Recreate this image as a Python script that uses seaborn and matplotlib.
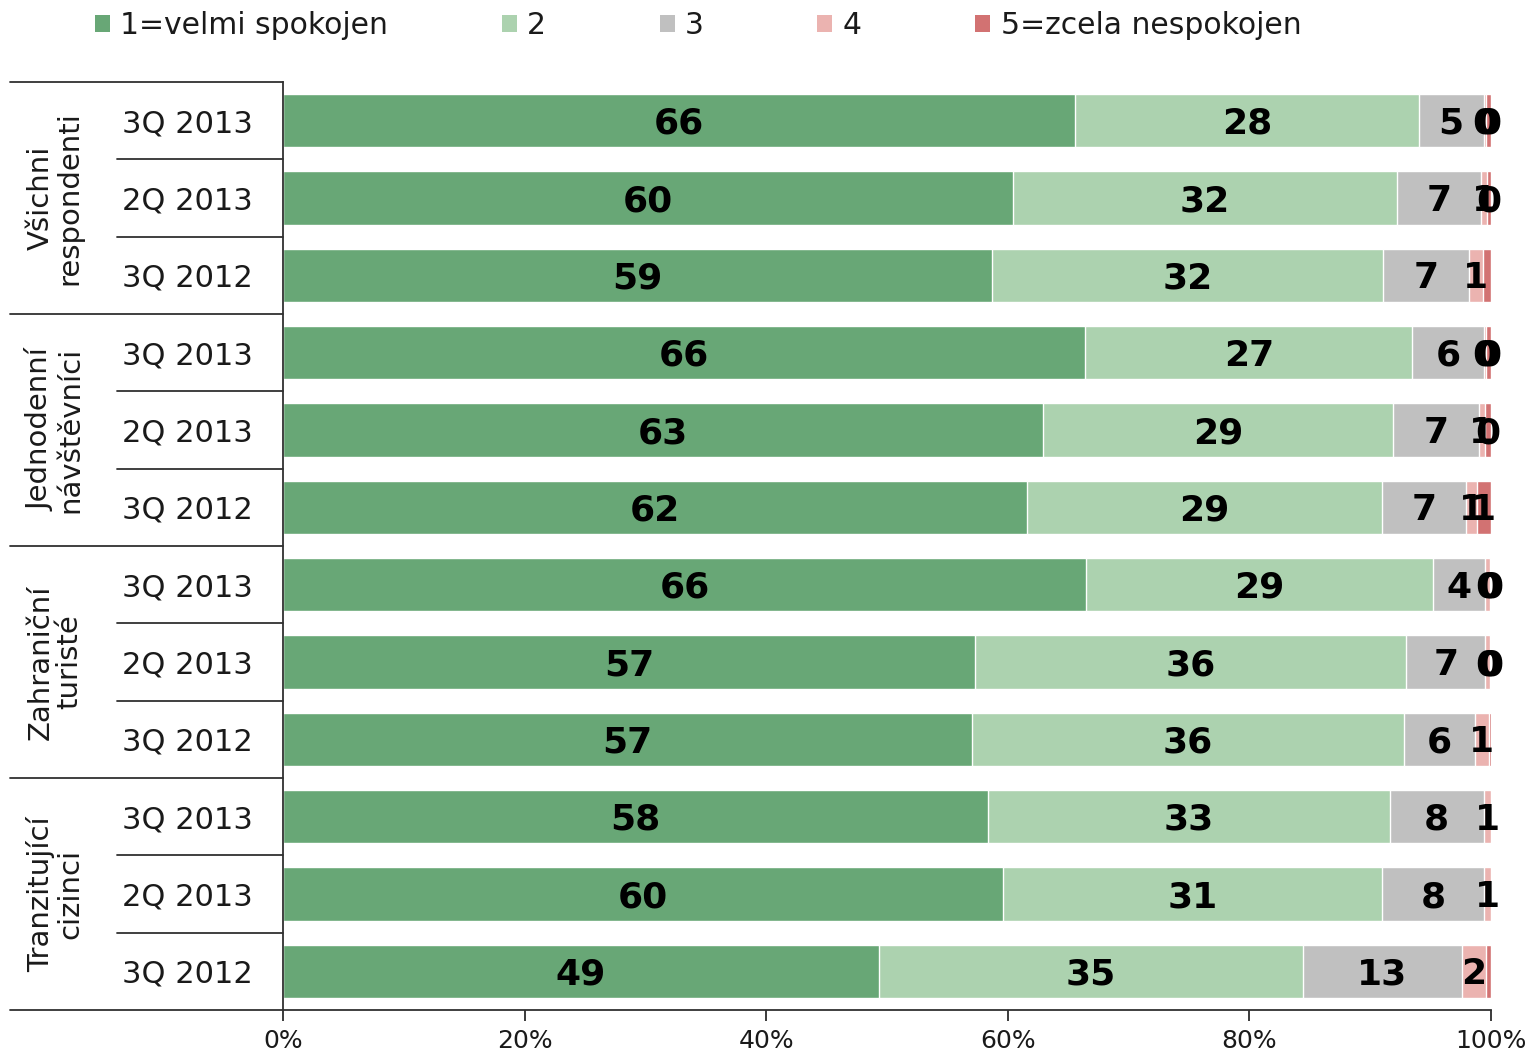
import matplotlib
matplotlib.use('Agg')
import matplotlib.pyplot as plt
import seaborn as sns
from matplotlib.patches import Patch
from matplotlib.lines import Line2D
from matplotlib.transforms import blended_transform_factory

# Data (share of answers, %)
groups = ['Všichni\nrespondenti', 'Jednodenní\nnávštěvníci',
          'Zahraniční\nturisté', 'Tranzitující\ncizinci']
periods = ['3Q 2013', '2Q 2013', '3Q 2012']
legend_labels = ['1=velmi spokojen', '2', '3', '4', '5=zcela nespokojen']

s1 = [65.6, 60.4, 58.7, 66.4, 62.9, 61.6, 66.5, 57.3, 57.0, 58.4, 59.6, 49.3]
s2 = [28.4, 31.8, 32.4, 27.1, 29.0, 29.4, 28.7, 35.7, 35.8, 33.2, 31.4, 35.1]
s3 = [5.4, 7.0, 7.1, 5.9, 7.1, 6.9, 4.3, 6.5, 5.9, 7.8, 8.4, 13.2]
s4 = [0.2, 0.5, 1.1, 0.2, 0.5, 0.9, 0.4, 0.4, 1.1, 0.6, 0.6, 2.0]
s5 = [0.4, 0.3, 0.7, 0.4, 0.5, 1.2, 0.1, 0.1, 0.2, 0.0, 0.0, 0.4]

# data labels as printed in the chart
lab1 = ['66', '60', '59', '66', '63', '62', '66', '57', '57', '58', '60', '49']
lab2 = ['28', '32', '32', '27', '29', '29', '29', '36', '36', '33', '31', '35']
lab3 = ['5', '7', '7', '6', '7', '7', '4', '7', '6', '8', '8', '13']
lab4 = ['0', '1', '1', '0', '1', '1', '0', '0', '1', '1', '1', '2']
lab5 = ['0', '0', '', '0', '0', '1', '0', '0', '', '', '', '']

COLORS = ['#68a776', '#acd2af', '#c0c0c0', '#ebb3b0', '#d27272']
TEXT = '#1a1a1a'

sns.set_theme(style='white')
plt.rcParams['font.family'] = ['DejaVu Sans']
plt.rcParams['text.color'] = TEXT

series = [s1, s2, s3, s4, s5]
labels = [lab1, lab2, lab3, lab4, lab5]
rows = [f'{g}|{p}' for g in groups for p in periods]

# cumulative ends of each segment
cums = []
run = [0.0] * len(rows)
for s in series:
    run = [a + b for a, b in zip(run, s)]
    cums.append(run)

fig = plt.figure(figsize=(15.35, 10.57), dpi=100)
ax = fig.add_axes([283 / 1535, 1 - 1010 / 1057, (1491 - 283) / 1535, (1010 - 82) / 1057])

# draw from the full bar down to the first segment
for k in range(4, -1, -1):
    sns.barplot(x=cums[k], y=rows, orient='h', color=COLORS[k], saturation=1,
                width=0.69, edgecolor='white', linewidth=1.0, ax=ax)

# segment labels
for k in range(5):
    for i in range(len(rows)):
        txt = labels[k][i]
        if not txt:
            continue
        start = cums[k][i] - series[k][i]
        ax.text(start + series[k][i] / 2, i + 0.04, txt, ha='center', va='center',
                fontsize=26, fontweight='bold', color='black')

ax.set_xlim(0, 100)
ax.set_ylim(11.5, -0.5)
ax.set_xticks([0, 20, 40, 60, 80, 100])
ax.set_xticklabels(['0%', '20%', '40%', '60%', '80%', '100%'], fontsize=18)
ax.set_yticks(range(len(rows)))
ax.set_yticklabels(periods * len(groups), fontsize=22)
ax.set_xlabel('')
ax.set_ylabel('')
ax.tick_params(axis='y', length=0, pad=22, colors=TEXT)
ax.tick_params(axis='x', length=8, width=1.2, direction='out', pad=6, colors=TEXT)
ax.tick_params(axis='x', bottom=True)
for side in ['top', 'right']:
    ax.spines[side].set_visible(False)
for side in ['left', 'bottom']:
    ax.spines[side].set_color('#303030')
    ax.spines[side].set_linewidth(1.3)

# table-like lines on the left
trans = blended_transform_factory(fig.transFigure, ax.transData)
x_outer = 10 / 1535
x_inner = 117 / 1535
x_axis = 283 / 1535
for b in [-0.5, 2.5, 5.5, 8.5]:
    fig.add_artist(Line2D([x_outer, x_axis], [b, b], transform=trans,
                          color='#303030', lw=1.3))
for b in [0.5, 1.5, 3.5, 4.5, 6.5, 7.5, 9.5, 10.5]:
    fig.add_artist(Line2D([x_inner, x_axis], [b, b], transform=trans,
                          color='#303030', lw=1.3))
fig.add_artist(Line2D([x_outer, x_axis], [11.5, 11.5], transform=trans,
                      color='#303030', lw=1.3))

# group names, rotated
for gi, g in enumerate(groups):
    fig.text(55 / 1535, gi * 3 + 1, g, transform=trans, rotation=90,
             ha='center', va='center', multialignment='center',
             fontsize=21, linespacing=1.05, color=TEXT)

handles = [Patch(facecolor=c, edgecolor='none') for c in COLORS]
fig.legend(handles, legend_labels, loc='center left', bbox_to_anchor=(95 / 1535, 1 - 26 / 1057),
           ncol=5, frameon=False, fontsize=21.5, handlelength=0.5, handleheight=0.5,
           handletextpad=0.35, columnspacing=3.8, borderpad=0, borderaxespad=0)

fig.savefig('out.png', dpi=100)
